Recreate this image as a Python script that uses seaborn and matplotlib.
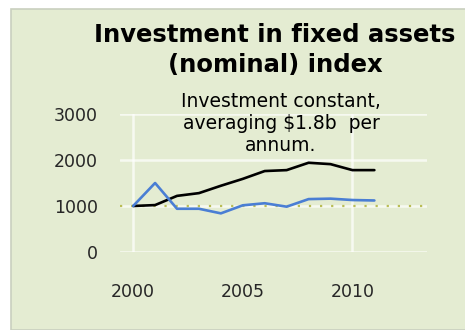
import pandas as pd
import seaborn as sns
import matplotlib.pyplot as plt
from matplotlib.patches import Rectangle

# Data
years = [2000, 2001, 2002, 2003, 2004, 2005, 2006, 2007, 2008, 2009, 2010, 2011]
nominal_index = [1000, 1020, 1220, 1280, 1440, 1590, 1760, 1780, 1940, 1910, 1780, 1780]
real_index = [1000, 1500, 940, 940, 840, 1015, 1060, 985, 1150, 1160, 1130, 1120]
baseline = 1000
y_ticks = [0, 1000, 2000, 3000]
x_ticks = [2000, 2005, 2010]
vgrid_years = [2000, 2010]

title = "Investment in fixed assets\n(nominal) index"
note = "Investment constant,\naveraging \\$1.8b  per\nannum."

df = pd.DataFrame({
    "year": years * 2,
    "value": nominal_index + real_index,
    "series": ["nominal"] * len(years) + ["real"] * len(years),
})

sns.set_theme(style="white")
plt.rcParams['font.family'] = ['DejaVu Sans']

bg = "#e4ecd2"
fig = plt.figure(figsize=(4.65, 3.3), dpi=100)
fig.patch.set_facecolor("white")
fig.patches.append(Rectangle((11 / 465, 0), 1, 1 - 9 / 330, transform=fig.transFigure,
                             facecolor=bg, edgecolor="#c9d0bf", linewidth=1.2, zorder=0))

ax = fig.add_axes([120 / 465, 1 - 252 / 330, (427 - 120) / 465, (252 - 114) / 330])
ax.set_facecolor("none")
ax.set_zorder(2)

# Faint white grid
for y in y_ticks:
    ax.axhline(y, color="white", linewidth=1.8, alpha=0.7, zorder=1)
for x in vgrid_years:
    ax.axvline(x, color="white", linewidth=1.8, alpha=0.7, zorder=1)

ax.axhline(baseline, color="#b9bd55", linewidth=1.6, linestyle=(0, (1, 4)), zorder=2)

sns.lineplot(data=df, x="year", y="value", hue="series",
             palette={"nominal": "black", "real": "#4a7ed4"},
             linewidth=1.9, legend=False, ax=ax, zorder=3)

ax.set_xlim(1999.4, 2013.4)
ax.set_ylim(0, 3000)
ax.set_xticks(x_ticks)
ax.set_yticks(y_ticks)
ax.set_xlabel("")
ax.set_ylabel("")
ax.tick_params(axis="x", labelsize=12.5, pad=22, length=0, colors="#262626")
ax.tick_params(axis="y", labelsize=12.5, pad=16, length=0, colors="#262626")
for s in ax.spines.values():
    s.set_visible(False)

fig.text(275 / 465, 1 - 50 / 330, title, ha="center", va="center",
         fontsize=17.5, fontweight="bold", color="black", linespacing=1.3, zorder=3)
fig.text(281 / 465, 1 - 123 / 330, note, ha="center", va="center",
         fontsize=13.5, color="black", linespacing=1.2, zorder=3)

fig.savefig("out.png", dpi=100, facecolor=fig.get_facecolor())
